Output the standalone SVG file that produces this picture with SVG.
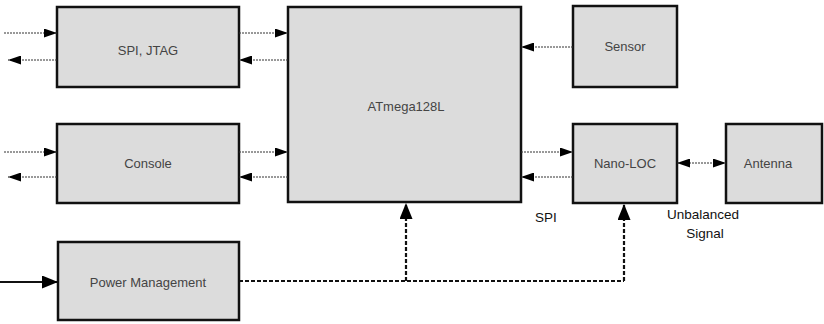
<svg xmlns="http://www.w3.org/2000/svg" width="824" height="324" viewBox="0 0 824 324">
<defs>
<marker id="ah" viewBox="0 0 10 8" refX="10" refY="4" markerWidth="13" markerHeight="9" markerUnits="userSpaceOnUse" orient="auto-start-reverse" preserveAspectRatio="none">
<path d="M0,0 L10,4 L0,8 Z" fill="#000"/>
</marker>
<marker id="ahb" viewBox="0 0 10 10" refX="10" refY="5" markerWidth="16" markerHeight="13" markerUnits="userSpaceOnUse" orient="auto-start-reverse" preserveAspectRatio="none">
<path d="M0,0 L10,5 L0,10 Z" fill="#000"/>
</marker>
<style>
.box{fill:#dcdcdc;stroke:#111;stroke-width:2.5}
.lbl{font-family:"Liberation Sans",Arial,sans-serif;font-size:13px;fill:#444;text-anchor:middle}
.note{font-family:"Liberation Sans",Arial,sans-serif;font-size:13.5px;fill:#111;text-anchor:middle}
.thin{stroke:#333;stroke-width:1;stroke-dasharray:2 1;fill:none;marker-end:url(#ah)}
.pwr{stroke:#111;stroke-width:2.2;stroke-dasharray:4 2;fill:none}
</style>
</defs>
<g id="spi-jtag"><rect class="box" x="57" y="7" width="182" height="80"/><text class="lbl" x="148" y="55">SPI, JTAG</text></g>
<g id="console"><rect class="box" x="57" y="124" width="182" height="79"/><text class="lbl" x="148" y="168">Console</text></g>
<g id="power"><rect class="box" x="58" y="242" width="181" height="78"/><text class="lbl" x="148" y="287">Power Management</text></g>
<g id="atmega"><rect class="box" x="288" y="7" width="233" height="195"/><text class="lbl" x="406" y="111">ATmega128L</text></g>
<g id="sensor"><rect class="box" x="573" y="6" width="104" height="81"/><text class="lbl" x="625" y="51">Sensor</text></g>
<g id="nanoloc"><rect class="box" x="573" y="124" width="104" height="79"/><text class="lbl" x="625" y="168">Nano-LOC</text></g>
<g id="antenna"><rect class="box" x="726" y="124" width="96" height="79"/><text class="lbl" x="768" y="168">Antenna</text></g>
<g id="labels">
<text class="note" x="546" y="222">SPI</text>
<text class="note" x="703" y="219">Unbalanced</text>
<text class="note" x="705" y="238">Signal</text>
</g>
<g id="connectors">
<path class="thin" d="M4,33 H57"/>
<path class="thin" d="M57,60 H8"/>
<path class="thin" d="M239,33 H288"/>
<path class="thin" d="M288,60 H239"/>
<path class="thin" d="M4,152 H57"/>
<path class="thin" d="M57,177 H8"/>
<path class="thin" d="M239,152 H288"/>
<path class="thin" d="M288,177 H239"/>
<path class="thin" d="M573,47 H521"/>
<path class="thin" d="M521,152 H573"/>
<path class="thin" d="M573,177 H521"/>
<path class="thin" d="M677,163 H726" marker-start="url(#ah)"/>
<path d="M0,282 H58" stroke="#111" stroke-width="2.2" marker-end="url(#ahb)"/>
<path class="pwr" d="M239,281 H624"/>
<path class="pwr" d="M406,281 V203" marker-end="url(#ahb)"/>
<path class="pwr" d="M624,281 V204" marker-end="url(#ahb)"/>
</g>
</svg>
